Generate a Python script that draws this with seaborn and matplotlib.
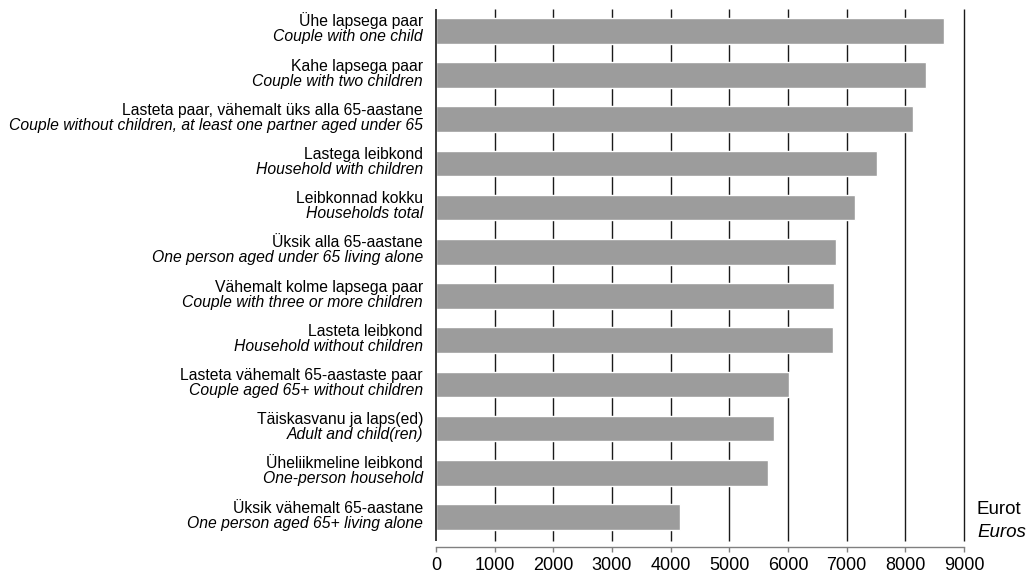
import matplotlib
matplotlib.use("Agg")
import matplotlib.pyplot as plt
import seaborn as sns
import pandas as pd

labels_et = [
    "Ühe lapsega paar",
    "Kahe lapsega paar",
    "Lasteta paar, vähemalt üks alla 65-aastane",
    "Lastega leibkond",
    "Leibkonnad kokku",
    "Üksik alla 65-aastane",
    "Vähemalt kolme lapsega paar",
    "Lasteta leibkond",
    "Lasteta vähemalt 65-aastaste paar",
    "Täiskasvanu ja laps(ed)",
    "Üheliikmeline leibkond",
    "Üksik vähemalt 65-aastane",
]
labels_en = [
    "Couple with one child",
    "Couple with two children",
    "Couple without children, at least one partner aged under 65",
    "Household with children",
    "Households total",
    "One person aged under 65 living alone",
    "Couple with three or more children",
    "Household without children",
    "Couple aged 65+ without children",
    "Adult and child(ren)",
    "One-person household",
    "One person aged 65+ living alone",
]
values = [8664, 8353, 8135, 7517, 7134, 6812, 6778, 6764, 6016, 5768, 5663, 4161]
xticks = [0, 1000, 2000, 3000, 4000, 5000, 6000, 7000, 8000, 9000]
unit_et = "Eurot"
unit_en = "Euros"

sns.set_theme(style="white")
plt.rcParams["font.family"] = ["Liberation Sans", "DejaVu Sans"]
plt.rcParams["text.color"] = "#000000"

W, H = 1031, 574
fig = plt.figure(figsize=(W / 100, H / 100), dpi=100)
ax = fig.add_axes([436 / W, 1 - 541 / H, (964 - 436) / W, (541 - 9) / H])

df = pd.DataFrame({"cat": labels_et, "val": values})
sns.barplot(data=df, x="val", y="cat", orient="h", color="#9c9c9c",
            saturation=1, width=0.58, ax=ax, zorder=3)

ax.set_xlim(0, 9000)
ax.set_ylim(11.543, -0.496)
ax.set_xticks(xticks)
ax.set_xticklabels([str(t) for t in xticks])
ax.set_yticks([])
ax.set_xlabel("")
ax.set_ylabel("")
ax.grid(False)

# vertical gridlines at the tick positions (unclipped so the edge lines show fully)
ax.vlines(xticks[1:], 0, 1, transform=ax.get_xaxis_transform(),
          colors="#1a1a1a", linewidth=1.0, zorder=1, clip_on=False)
ax.vlines(xticks[:1], 0, 1, transform=ax.get_xaxis_transform(),
          colors="#1a1a1a", linewidth=1.2, zorder=5, clip_on=False)

for s in ["left", "right", "top"]:
    ax.spines[s].set_visible(False)
ax.spines["bottom"].set_position(("outward", 4.1))
ax.spines["bottom"].set_color("#808080")
ax.spines["bottom"].set_linewidth(1.0)
ax.tick_params(axis="x", bottom=True, length=3.6, width=1.0, color="#808080",
               pad=4, labelsize=13, labelcolor="#000000")

tr = ax.get_yaxis_transform()
for i, (et, en) in enumerate(zip(labels_et, labels_en)):
    ax.annotate(et, xy=(0, i), xycoords=tr, xytext=(-13, 4.5),
                textcoords="offset pixels", ha="right", va="baseline",
                fontsize=11.3, color="#000000")
    ax.annotate(en, xy=(0, i), xycoords=tr, xytext=(-13, -10.5),
                textcoords="offset pixels", ha="right", va="baseline",
                fontsize=11.3, style="italic", color="#000000")

fig.text(977 / W, 1 - 514 / H, unit_et, ha="left", va="baseline", fontsize=13.5,
         color="#000000")
fig.text(977 / W, 1 - 537 / H, unit_en, ha="left", va="baseline", fontsize=13.5,
         style="italic", color="#000000")

fig.savefig("out.png", dpi=100)
